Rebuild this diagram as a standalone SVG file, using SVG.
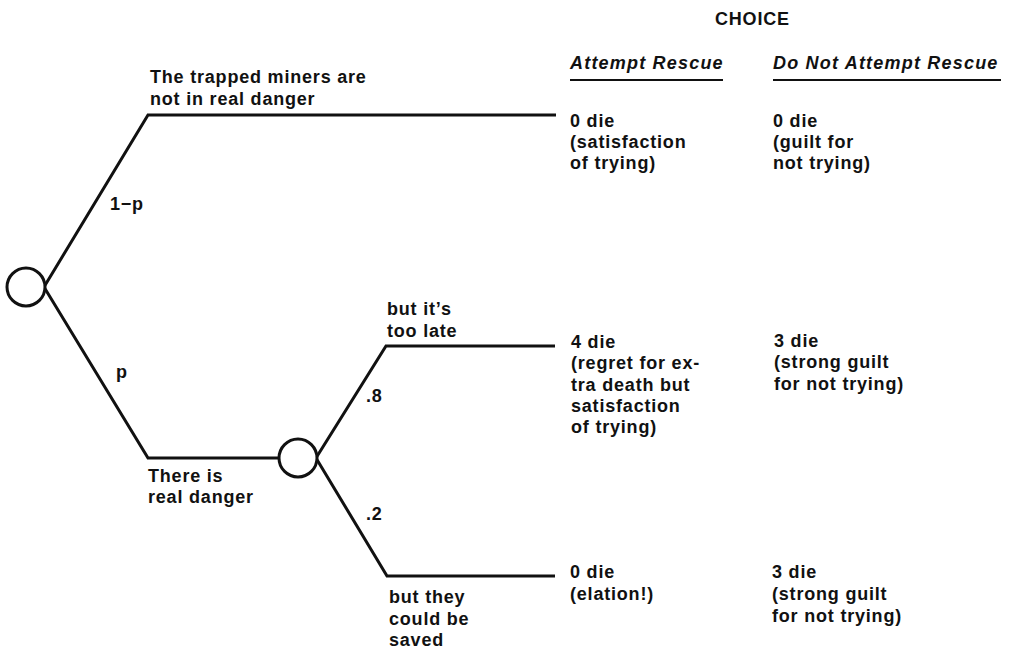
<svg xmlns="http://www.w3.org/2000/svg" width="1011" height="650" viewBox="0 0 1011 650">
<style>
.t{font-family:"Liberation Sans",Arial,sans-serif;font-weight:bold;font-size:18px;letter-spacing:0.8px;fill:#111}
.i{font-style:italic;letter-spacing:1.2px}
.ln{fill:none;stroke:#111;stroke-width:3;stroke-linejoin:miter}
.nd{fill:#fff;stroke:#111;stroke-width:3}
</style>
<rect width="1011" height="650" fill="#fff"/>
<g id="connectors">
<polyline class="ln" points="44,287 148,115 556,115"/>
<polyline class="ln" points="44,287 148,458 280,458"/>
<polyline class="ln" points="316,458 386,346 555,346"/>
<polyline class="ln" points="316,458 387,576 555,576"/>
</g>
<g id="chance1"><circle class="nd" cx="26" cy="287" r="19"/></g>
<g id="chance2"><circle class="nd" cx="298" cy="458" r="19"/></g>
<g id="labels">
<text class="t" x="150" y="83">The trapped miners are</text>
<text class="t" x="150" y="105">not in real danger</text>
<text class="t" x="110" y="210">1−p</text>
<text class="t" x="116" y="378">p</text>
<text class="t" x="148" y="482">There is</text>
<text class="t" x="148" y="503">real danger</text>
<text class="t" x="387" y="315">but it’s</text>
<text class="t" x="387" y="337">too late</text>
<text class="t" x="366" y="402">.8</text>
<text class="t" x="366" y="520">.2</text>
<text class="t" x="389" y="603">but they</text>
<text class="t" x="389" y="625">could be</text>
<text class="t" x="389" y="646">saved</text>
</g>
<g id="header">
<text class="t" x="715" y="25">CHOICE</text>
<text class="t i" x="570" y="69">Attempt Rescue</text>
<line x1="570" y1="80" x2="723" y2="80" stroke="#111" stroke-width="2"/>
<text class="t i" x="773" y="69">Do Not Attempt Rescue</text>
<line x1="773" y1="80" x2="1001" y2="80" stroke="#111" stroke-width="2"/>
</g>
<g id="outcome1">
<text class="t" x="570" y="127">0 die</text>
<text class="t" x="570" y="148">(satisfaction</text>
<text class="t" x="570" y="169">of trying)</text>
<text class="t" x="773" y="127">0 die</text>
<text class="t" x="773" y="148">(guilt for</text>
<text class="t" x="773" y="169">not trying)</text>
</g>
<g id="outcome2">
<text class="t" x="571" y="348">4 die</text>
<text class="t" x="571" y="369">(regret for ex-</text>
<text class="t" x="571" y="391">tra death but</text>
<text class="t" x="571" y="412">satisfaction</text>
<text class="t" x="571" y="433">of trying)</text>
<text class="t" x="774" y="347">3 die</text>
<text class="t" x="774" y="368">(strong guilt</text>
<text class="t" x="774" y="390">for not trying)</text>
</g>
<g id="outcome3">
<text class="t" x="570" y="578">0 die</text>
<text class="t" x="570" y="600">(elation!)</text>
<text class="t" x="772" y="578">3 die</text>
<text class="t" x="772" y="600">(strong guilt</text>
<text class="t" x="772" y="622">for not trying)</text>
</g>
</svg>
